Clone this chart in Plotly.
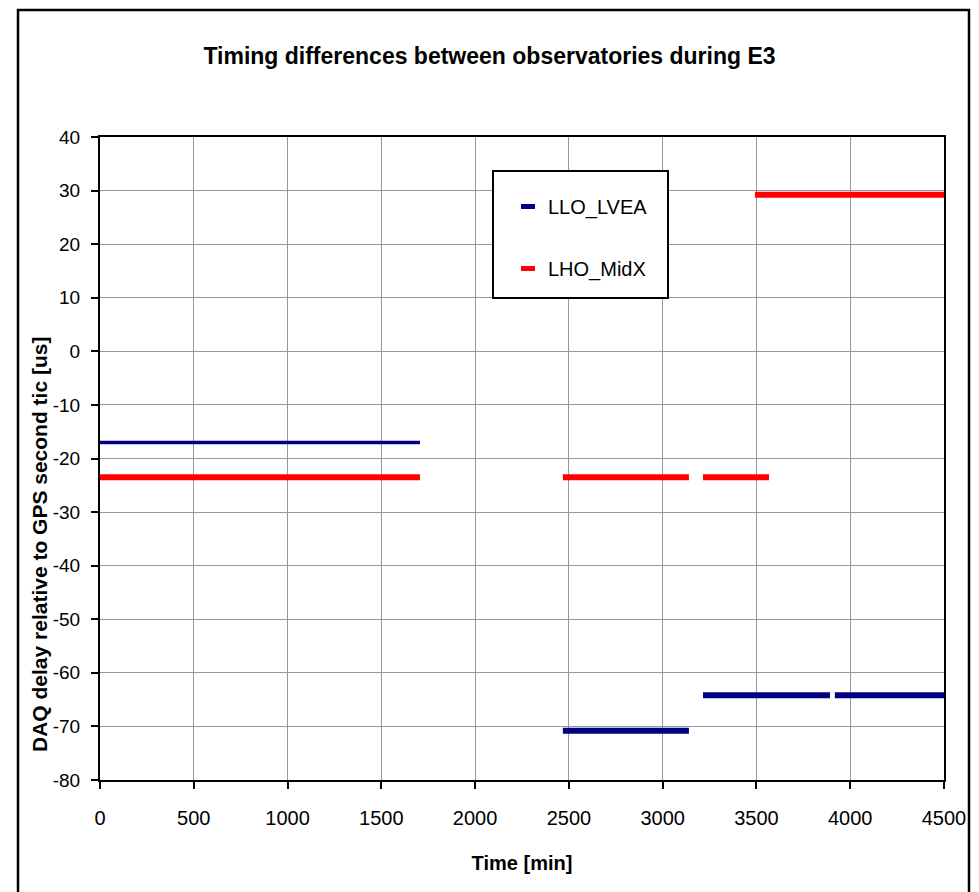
import plotly.graph_objects as go

# ---- data ----
x_tick_values = [0, 500, 1000, 1500, 2000, 2500, 3000, 3500, 4000, 4500]
y_tick_values = [-80, -70, -60, -50, -40, -30, -20, -10, 0, 10, 20, 30, 40]
y_tick_labels = ["-80", "-70", "-60", "-50", "-40", "-30", "-20", "-10", "0", "10", "20", "30", "40"]

series_names = ["LLO_LVEA", "LHO_MidX"]

llo_start = [0, 2468, 3215, 3918]
llo_end = [1706, 3140, 3892, 4500]
llo_delay = [-17.0, -70.8, -64.2, -64.2]

lho_start = [0, 2468, 3215, 3492]
lho_end = [1706, 3140, 3567, 4500]
lho_delay = [-23.5, -23.5, -23.5, 29.2]

# ---- layout geometry (pixels) ----
W, H = 979, 892
PL, PR, PT, PB = 100, 944, 137, 780
FONT = "Liberation Sans, Arial, sans-serif"
NAVY = "#000080"
RED = "#FF0000"


def px_x(px):
    return (px - PL) / (PR - PL)


def px_y(py):
    return (PB - py) / (PB - PT)


def segments(starts, ends, vals):
    xs, ys = [], []
    for s, e, v in zip(starts, ends, vals):
        xs += [s, e, None]
        ys += [v, v, None]
    return xs, ys


fig = go.Figure()

# LLO: first segment thinner
x0, y0 = segments(llo_start[:1], llo_end[:1], llo_delay[:1])
fig.add_trace(go.Scatter(x=x0, y=y0, mode="lines", line=dict(color=NAVY, width=3.5),
                         showlegend=False, name=series_names[0]))
x1, y1 = segments(llo_start[1:], llo_end[1:], llo_delay[1:])
fig.add_trace(go.Scatter(x=x1, y=y1, mode="lines", line=dict(color=NAVY, width=6),
                         showlegend=False, name=series_names[0]))
x2, y2 = segments(lho_start, lho_end, lho_delay)
fig.add_trace(go.Scatter(x=x2, y=y2, mode="lines", line=dict(color=RED, width=6),
                         showlegend=False, name=series_names[1]))

# legend entries (dash markers)
for nm, col, grp in [(series_names[0], NAVY, "a"), (series_names[1], RED, "b")]:
    fig.add_trace(go.Scatter(x=[None], y=[None], mode="markers", name=nm, legendgroup=grp,
                             marker=dict(symbol="line-ew-open", size=10, color=col,
                                         line=dict(color=col, width=5))))

shapes = [
    # outer chart frame
    dict(type="rect", xref="paper", yref="paper",
         x0=px_x(18), x1=px_x(969), y0=px_y(905), y1=px_y(10),
         line=dict(color="black", width=2.5), fillcolor="rgba(0,0,0,0)", layer="above"),
    # legend box
    dict(type="rect", xref="paper", yref="paper",
         x0=px_x(493), x1=px_x(668), y0=px_y(298), y1=px_y(171),
         line=dict(color="black", width=2), fillcolor="white", layer="above"),
]

annotations = [
    dict(text="<b>DAQ delay relative to GPS second tic [us]</b>", xref="paper", yref="paper",
         x=px_x(39), y=px_y(545), textangle=-90, showarrow=False,
         xanchor="center", yanchor="middle", font=dict(family=FONT, size=21, color="black")),
]

fig.update_layout(
    width=W, height=H,
    margin=dict(l=PL, r=W - PR, t=PT, b=H - PB),
    paper_bgcolor="white", plot_bgcolor="white",
    font=dict(family=FONT, color="black", size=20),
    title=dict(text="<b>Timing differences between observatories during E3</b>",
               x=0.5, xanchor="center", xref="container",
               y=1 - 56 / H, yanchor="middle", yref="container",
               font=dict(family=FONT, size=23, color="black")),
    xaxis=dict(range=[0, 4500], tickvals=x_tick_values, ticks="outside", ticklen=7,
               tickwidth=2, tickcolor="black", showline=True, linecolor="black", linewidth=2,
               mirror=True, showgrid=True, gridcolor="#999999", gridwidth=1, zeroline=False,
               tickfont=dict(size=20), ticklabelstandoff=12,
               title=dict(text="<b>Time [min]</b>", font=dict(size=20), standoff=28)),
    yaxis=dict(range=[-80, 40], tickvals=y_tick_values, ticktext=y_tick_labels,
               ticks="outside", ticklen=7,
               tickwidth=2, tickcolor="black", showline=True, linecolor="black", linewidth=2,
               mirror=True, showgrid=True, gridcolor="#999999", gridwidth=1, zeroline=False,
               tickfont=dict(size=19), ticklabelstandoff=7),
    legend=dict(x=px_x(508), y=px_y(187), xanchor="left", yanchor="top",
                bgcolor="rgba(0,0,0,0)", borderwidth=0, tracegroupgap=33,
                font=dict(size=20, family=FONT)),
    shapes=shapes,
    annotations=annotations,
)

fig.write_html("out.html")
